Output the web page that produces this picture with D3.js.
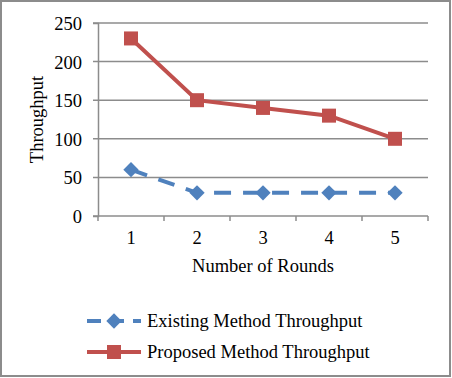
<!DOCTYPE html>
<html>
<head>
<meta charset="utf-8">
<script src="https://cdn.jsdelivr.net/npm/d3@7"></script>
<style>
  body { margin: 0; background: #fff; }
  svg text { font-family: "Liberation Serif", "Times New Roman", serif !important; fill: #000; }
</style>
</head>
<body>
<svg id="chart" width="452" height="378"></svg>
<script>
const rounds = ['1', '2', '3', '4', '5'];
const existing = [60, 30, 30, 30, 30];
const proposed = [230, 150, 140, 130, 100];
const yTicks = [0, 50, 100, 150, 200, 250];

const series = [
  { name: 'Existing Method Throughput', values: existing, color: '#4F81BD', dash: '17,12', marker: 'diamond' },
  { name: 'Proposed Method Throughput', values: proposed, color: '#C0504D', dash: null, marker: 'square' },
];

const svg = d3.select('#chart');
const W = 452, H = 378;
const plot = { left: 98, right: 428, top: 23, bottom: 216 };
const fontSize = '18.5px';

// outer frame
svg.append('rect')
  .attr('x', 1).attr('y', 1)
  .attr('width', W - 3).attr('height', H - 3)
  .attr('fill', '#fff')
  .attr('stroke', '#8c8c8c')
  .attr('stroke-width', 2);

const x = d3.scaleBand().domain(rounds).range([plot.left, plot.right]);
const y = d3.scaleLinear().domain([0, 250]).range([plot.bottom, plot.top]);

// gridlines
svg.append('g')
  .selectAll('line')
  .data(yTicks)
  .join('line')
  .attr('x1', plot.left - 5).attr('x2', plot.right)
  .attr('y1', (d) => y(d)).attr('y2', (d) => y(d))
  .attr('stroke', '#8c8c8c')
  .attr('stroke-width', 1.5);

// y axis
const yAxis = svg.append('g')
  .attr('transform', `translate(${plot.left},0)`)
  .call(d3.axisLeft(y).tickValues(yTicks).tickSize(5).tickPadding(11));
yAxis.attr('font-family', null);
yAxis.select('.domain').attr('stroke', '#8c8c8c').attr('stroke-width', 1.5);
yAxis.selectAll('.tick line').remove();
yAxis.selectAll('text').style('font-size', fontSize).attr('dy', '0.35em');

// x axis
const xAxis = svg.append('g')
  .attr('transform', `translate(0,${plot.bottom})`)
  .call(d3.axisBottom(x).tickSize(0).tickPadding(15));
xAxis.attr('font-family', null);
xAxis.select('.domain').remove();
xAxis.selectAll('text').style('font-size', fontSize);
svg.append('g')
  .selectAll('line')
  .data(rounds.concat(['end']))
  .join('line')
  .attr('x1', (d, i) => plot.left + i * x.bandwidth())
  .attr('x2', (d, i) => plot.left + i * x.bandwidth())
  .attr('y1', plot.bottom).attr('y2', plot.bottom + 5)
  .attr('stroke', '#8c8c8c')
  .attr('stroke-width', 1.5);

// axis titles
svg.append('text')
  .attr('x', (plot.left + plot.right) / 2)
  .attr('y', 272)
  .attr('text-anchor', 'middle')
  .style('font-size', fontSize)
  .text('Number of Rounds');

svg.append('text')
  .attr('transform', `translate(43,${(plot.top + plot.bottom) / 2}) rotate(-90)`)
  .attr('text-anchor', 'middle')
  .style('font-size', fontSize)
  .text('Throughput');

const cx = (i) => x(rounds[i]) + x.bandwidth() / 2;
const line = d3.line().x((d, i) => cx(i)).y((d) => y(d));

function drawMarker(g, type, color, px, py) {
  if (type === 'square') {
    g.append('rect')
      .attr('x', px - 7).attr('y', py - 7)
      .attr('width', 14).attr('height', 14)
      .attr('fill', color);
  } else {
    g.append('path')
      .attr('d', d3.symbol().type(d3.symbolDiamond2).size(150)())
      .attr('transform', `translate(${px},${py})`)
      .attr('fill', color);
  }
}

series.forEach((s) => {
  const g = svg.append('g');
  g.append('path')
    .datum(s.values)
    .attr('d', line)
    .attr('fill', 'none')
    .attr('stroke', s.color)
    .attr('stroke-width', 4)
    .attr('stroke-dasharray', s.dash);
  s.values.forEach((v, i) => drawMarker(g, s.marker, s.color, cx(i), y(v)));
});

// legend
series.forEach((s, i) => {
  const ly = 321 + i * 31;
  const g = svg.append('g');
  g.append('line')
    .attr('x1', 87).attr('x2', 141)
    .attr('y1', ly).attr('y2', ly)
    .attr('stroke', s.color)
    .attr('stroke-width', 4)
    .attr('stroke-dasharray', s.dash ? '14,9' : null);
  drawMarker(g, s.marker, s.color, 114, ly);
  g.append('text')
    .attr('x', 147).attr('y', ly)
    .attr('dy', '0.35em')
    .style('font-size', fontSize)
    .text(s.name);
});
</script>
</body>
</html>
